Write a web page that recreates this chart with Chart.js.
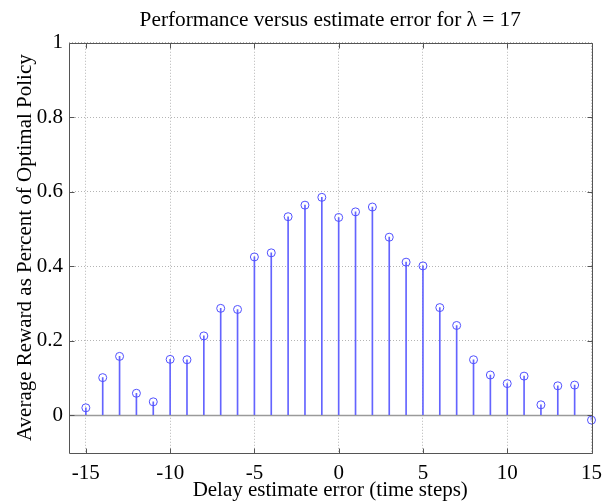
<!DOCTYPE html>
<html>
<head>
<meta charset="utf-8">
<script src="https://cdn.jsdelivr.net/npm/chart.js@4/dist/chart.umd.min.js"></script>
<style>
  html, body { margin: 0; padding: 0; background: #fff; }
  canvas { display: block; }
</style>
</head>
<body>
<canvas id="stemChart" width="616" height="504"></canvas>
<script>
// delay estimate error, in time steps
const delayErrors = [-15, -14, -13, -12, -11, -10, -9, -8, -7, -6, -5, -4, -3, -2, -1,
    0, 1, 2, 3, 4, 5, 6, 7, 8, 9, 10, 11, 12, 13, 14, 15];

// average reward as a fraction of the optimal policy
const rewards = [0.020, 0.101, 0.158, 0.059, 0.036, 0.150, 0.149, 0.213, 0.287, 0.284,
    0.425, 0.436, 0.533, 0.564, 0.585, 0.531, 0.546, 0.559, 0.478, 0.411,
    0.401, 0.289, 0.241, 0.149, 0.108, 0.085, 0.105, 0.028, 0.079, 0.081, -0.013];

const xTicks = [-15, -10, -5, 0, 5, 10, 15];
const yTicks = [0, 0.2, 0.4, 0.6, 0.8, 1];
const yTickLabels = ["0", "0.2", "0.4", "0.6", "0.8", "1"];

const serif = "'Liberation Serif', 'Times New Roman', serif";
const points = delayErrors.map((d, i) => ({ x: d, y: rewards[i] }));

// MATLAB-like box with inward tick marks and a stem baseline at zero
const stemFrame = {
    id: "stemFrame",
    beforeDatasetsDraw(chart) {
        const { ctx, chartArea: a, scales } = chart;
        const y0 = Math.round(scales.y.getPixelForValue(0)) + 0.5;
        ctx.save();
        ctx.strokeStyle = "#9a9a9a";
        ctx.lineWidth = 1.5;
        ctx.beginPath();
        ctx.moveTo(a.left, y0);
        ctx.lineTo(a.right, y0);
        ctx.stroke();
        ctx.restore();
    },
    afterDraw(chart) {
        const { ctx, chartArea: a, scales } = chart;
        const L = Math.round(a.left) + 0.5, R = Math.round(a.right) + 0.5;
        const T = Math.round(a.top) + 0.5, B = Math.round(a.bottom) + 0.5;
        ctx.save();
        ctx.strokeStyle = "#555";
        ctx.lineWidth = 1;
        ctx.beginPath();
        ctx.rect(L, T, R - L, B - T);
        const len = 5;
        xTicks.forEach(v => {
            const x = Math.round(scales.x.getPixelForValue(v)) + 0.5;
            ctx.moveTo(x, B); ctx.lineTo(x, B - len);
            ctx.moveTo(x, T); ctx.lineTo(x, T + len);
        });
        yTicks.forEach(v => {
            const y = Math.round(scales.y.getPixelForValue(v)) + 0.5;
            ctx.moveTo(L, y); ctx.lineTo(L + len, y);
            ctx.moveTo(R, y); ctx.lineTo(R - len, y);
        });
        ctx.stroke();
        ctx.restore();
    }
};

new Chart(document.getElementById("stemChart"), {
    type: "bar",
    data: {
        datasets: [
            {
                type: "bar",
                data: points,
                backgroundColor: "rgb(100, 100, 255)",
                barThickness: 1,
                borderWidth: 0,
                order: 2
            },
            {
                type: "scatter",
                data: points,
                showLine: false,
                pointStyle: "circle",
                pointRadius: 4,
                pointBorderWidth: 1,
                pointBorderColor: "rgb(80, 80, 255)",
                pointBackgroundColor: "rgba(0,0,0,0)",
                clip: false,
                order: 1
            }
        ]
    },
    options: {
        responsive: false,
        animation: false,
        devicePixelRatio: 1,
        layout: { padding: { left: 0, right: 24.5, top: 0, bottom: 0 } },
        plugins: {
            legend: { display: false },
            tooltip: { enabled: false },
            title: {
                display: true,
                fullSize: false,
                text: "Performance versus estimate error for \u03bb = 17",
                color: "#000",
                font: { family: serif, size: 21.3, weight: "normal", lineHeight: 1.2 },
                padding: { top: 8, bottom: 9.2 }
            }
        },
        scales: {
            x: {
                type: "linear",
                min: -16,
                max: 15,
                offset: false,
                afterBuildTicks: scale => {
                    scale.ticks = xTicks.map(v => ({ value: v }));
                },
                afterFit: scale => { scale.height = 51.5; },
                grid: {
                    offset: false,
                    color: "#b4b4b4",
                    lineWidth: 1,
                    drawTicks: false
                },
                border: { display: false, dash: [1, 2] },
                ticks: {
                    color: "#000",
                    padding: 8,
                    maxRotation: 0,
                    font: { family: serif, size: 21 },
                    callback: v => String(v)
                },
                title: {
                    display: true,
                    text: "Delay estimate error (time steps)",
                    color: "#000",
                    font: { family: serif, size: 21, lineHeight: 1.2 },
                    padding: { top: 0, bottom: 1 }
                }
            },
            y: {
                min: -0.1,
                max: 1,
                afterBuildTicks: scale => {
                    scale.ticks = yTicks.map(v => ({ value: v }));
                },
                afterFit: scale => { scale.width = 69; },
                grid: {
                    color: ctx => (ctx.tick && ctx.tick.value === 0 ? "rgba(0,0,0,0)" : "#b4b4b4"),
                    lineWidth: 1,
                    drawTicks: false
                },
                border: { display: false, dash: [1, 2] },
                ticks: {
                    color: "#000",
                    padding: 6,
                    font: { family: serif, size: 21 },
                    callback: (v, i) => yTickLabels[i]
                },
                title: {
                    display: true,
                    text: "Average Reward as Percent of Optimal Policy",
                    color: "#000",
                    font: { family: serif, size: 21, lineHeight: 1.2 },
                    padding: { top: 12.4, bottom: 0 }
                }
            }
        }
    },
    plugins: [stemFrame]
});
</script>
</body>
</html>
